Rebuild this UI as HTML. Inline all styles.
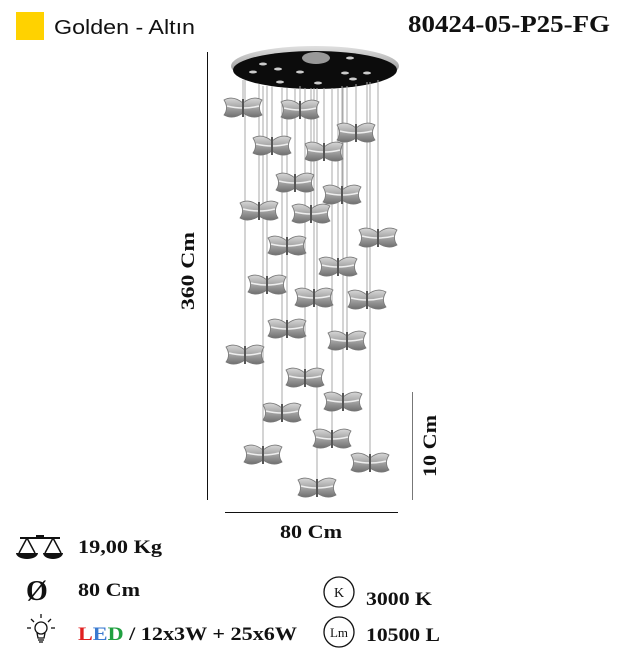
<!DOCTYPE html>
<html><head><meta charset="utf-8"><style>
html,body{margin:0;padding:0;background:#fff;width:622px;height:656px;overflow:hidden}
svg{display:block}
.s{font-family:"Liberation Serif",serif;font-weight:bold;fill:#111}
</style></head><body>
<svg width="622" height="656" viewBox="0 0 622 656" xmlns="http://www.w3.org/2000/svg">
<defs>
<linearGradient id="g" x1="0" y1="0" x2="0" y2="1">
<stop offset="0" stop-color="#d8d8d8"/><stop offset="0.5" stop-color="#a4a4a4"/><stop offset="1" stop-color="#707070"/></linearGradient>
<linearGradient id="c" x1="0" y1="0" x2="0" y2="1">
<stop offset="0" stop-color="#e0e0e0"/><stop offset="1" stop-color="#777"/></linearGradient>
<g id="p">
<path d="M-19,-8 Q-10,-13 0,-5 Q10,-13 19,-8 Q14,0 19,7 Q10,12 0,5 Q-10,12 -19,7 Q-14,0 -19,-8 Z" fill="url(#g)" stroke="#777" stroke-width="0.8"/>
<path d="M-16,-2 Q0,2 16,-2" stroke="#eee" stroke-width="1.5" fill="none"/>
<rect x="-1" y="-9" width="2" height="18" fill="#555"/>
</g>
</defs>
<rect x="16" y="12" width="28" height="28" fill="#ffd200"/>
<text x="54" y="34" font-family="Liberation Sans,sans-serif" font-size="20" fill="#111" textLength="141" lengthAdjust="spacingAndGlyphs">Golden - Altın</text>
<text x="408" y="32" class="s" font-size="24" textLength="202" lengthAdjust="spacingAndGlyphs">80424-05-P25-FG</text>

<!-- canopy -->
<ellipse cx="315" cy="66" rx="84" ry="20" fill="url(#c)"/>
<ellipse cx="315" cy="70" rx="82" ry="19" fill="#0c0c0c"/>
<ellipse cx="316" cy="58" rx="14" ry="6" fill="#999"/>
<g fill="#ccc">
<ellipse cx="263" cy="64" rx="4" ry="1.5"/><ellipse cx="278" cy="69" rx="4" ry="1.5"/><ellipse cx="253" cy="72" rx="4" ry="1.5"/>
<ellipse cx="350" cy="58" rx="4" ry="1.5"/><ellipse cx="367" cy="73" rx="4" ry="1.5"/><ellipse cx="345" cy="73" rx="4" ry="1.5"/>
<ellipse cx="300" cy="72" rx="4" ry="1.5"/><ellipse cx="318" cy="83" rx="4" ry="1.5"/><ellipse cx="280" cy="82" rx="4" ry="1.5"/><ellipse cx="353" cy="79" rx="4" ry="1.5"/></g>

<!-- wires -->
<g stroke="#aaa" stroke-width="1">
<line x1="243" y1="80" x2="243" y2="108"/><line x1="300" y1="86" x2="300" y2="110"/><line x1="356" y1="84" x2="356" y2="133"/>
<line x1="272" y1="86" x2="272" y2="146"/><line x1="324" y1="88" x2="324" y2="152"/><line x1="295" y1="88" x2="295" y2="183"/>
<line x1="342" y1="86" x2="342" y2="195"/><line x1="259" y1="84" x2="259" y2="211"/><line x1="311" y1="88" x2="311" y2="214"/>
<line x1="378" y1="80" x2="378" y2="238"/><line x1="287" y1="88" x2="287" y2="246"/><line x1="338" y1="88" x2="338" y2="267"/>
<line x1="267" y1="86" x2="267" y2="285"/><line x1="314" y1="88" x2="314" y2="298"/><line x1="367" y1="82" x2="367" y2="300"/>
<line x1="287" y1="88" x2="287" y2="329"/><line x1="347" y1="86" x2="347" y2="341"/><line x1="245" y1="80" x2="245" y2="355"/>
<line x1="305" y1="88" x2="305" y2="378"/><line x1="343" y1="88" x2="343" y2="402"/><line x1="282" y1="88" x2="282" y2="413"/>
<line x1="332" y1="88" x2="332" y2="439"/><line x1="263" y1="86" x2="263" y2="455"/><line x1="370" y1="82" x2="370" y2="463"/>
<line x1="317" y1="88" x2="317" y2="488"/>
</g>
<g>
<use href="#p" x="243" y="108"/><use href="#p" x="300" y="110"/><use href="#p" x="356" y="133"/><use href="#p" x="272" y="146"/>
<use href="#p" x="324" y="152"/><use href="#p" x="295" y="183"/><use href="#p" x="342" y="195"/><use href="#p" x="259" y="211"/>
<use href="#p" x="311" y="214"/><use href="#p" x="378" y="238"/><use href="#p" x="287" y="246"/><use href="#p" x="338" y="267"/>
<use href="#p" x="267" y="285"/><use href="#p" x="314" y="298"/><use href="#p" x="367" y="300"/><use href="#p" x="287" y="329"/>
<use href="#p" x="347" y="341"/><use href="#p" x="245" y="355"/><use href="#p" x="305" y="378"/><use href="#p" x="343" y="402"/>
<use href="#p" x="282" y="413"/><use href="#p" x="332" y="439"/><use href="#p" x="263" y="455"/><use href="#p" x="370" y="463"/>
<use href="#p" x="317" y="488"/>
</g>

<!-- dimensions -->
<line x1="207.5" y1="52" x2="207.5" y2="500" stroke="#111" stroke-width="1"/>
<line x1="225" y1="512.5" x2="398" y2="512.5" stroke="#111" stroke-width="1"/>
<line x1="412.5" y1="392" x2="412.5" y2="500" stroke="#777" stroke-width="1"/>
<text class="s" font-size="19" transform="translate(194,271) rotate(-90)" text-anchor="middle" textLength="78" lengthAdjust="spacingAndGlyphs">360 Cm</text>
<text class="s" font-size="19" transform="translate(436,446) rotate(-90)" text-anchor="middle" textLength="62" lengthAdjust="spacingAndGlyphs">10 Cm</text>
<text class="s" font-size="19" x="311" y="538" text-anchor="middle" textLength="62" lengthAdjust="spacingAndGlyphs">80 Cm</text>

<!-- scale icon -->
<g fill="#111" stroke="#111">
<line x1="20" y1="538" x2="60" y2="538" stroke-width="2"/>
<rect x="36" y="535" width="8" height="4" stroke="none"/>
<path d="M27,538 L19,553 M27,538 L35,553 M53,538 L45,553 M53,538 L61,553" stroke-width="1.5" fill="none"/>
<path d="M16,553 H38 A11,6 0 0 1 16,553 Z M43,553 H63 A10,6 0 0 1 43,553 Z" stroke="none"/>
</g>
<text class="s" font-size="19" x="78" y="553" textLength="84" lengthAdjust="spacingAndGlyphs">19,00 Kg</text>
<text class="s" font-size="28" x="26" y="600">Ø</text>
<text class="s" font-size="19" x="78" y="596" textLength="62" lengthAdjust="spacingAndGlyphs">80 Cm</text>
<!-- bulb -->
<g stroke="#111" stroke-width="1.3" fill="none">
<circle cx="41" cy="628" r="6"/>
<path d="M37,633 L38,638 H44 L45,633"/>
<line x1="38" y1="640" x2="44" y2="640"/><line x1="39" y1="642" x2="43" y2="642"/>
<line x1="41" y1="614" x2="41" y2="618"/><line x1="31" y1="619" x2="34" y2="622"/><line x1="51" y1="619" x2="48" y2="622"/>
<line x1="27" y1="628" x2="31" y2="628"/><line x1="51" y1="628" x2="55" y2="628"/>
</g>
<text class="s" font-size="19" x="78" y="640" textLength="219" lengthAdjust="spacingAndGlyphs"><tspan fill="#e02020">L</tspan><tspan fill="#3a7ad0">E</tspan><tspan fill="#20a040">D</tspan> / 12x3W + 25x6W</text>

<circle cx="339" cy="592" r="15" fill="none" stroke="#111" stroke-width="1.3"/>
<text class="s" font-size="14" x="339" y="597" text-anchor="middle" style="font-weight:normal">K</text>
<text class="s" font-size="19" x="366" y="605" textLength="66" lengthAdjust="spacingAndGlyphs">3000 K</text>
<circle cx="339" cy="632" r="15" fill="none" stroke="#111" stroke-width="1.3"/>
<text class="s" font-size="13" x="339" y="637" text-anchor="middle" style="font-weight:normal">Lm</text>
<text class="s" font-size="19" x="366" y="641" textLength="74" lengthAdjust="spacingAndGlyphs">10500 L</text>
</svg>
</body></html>
